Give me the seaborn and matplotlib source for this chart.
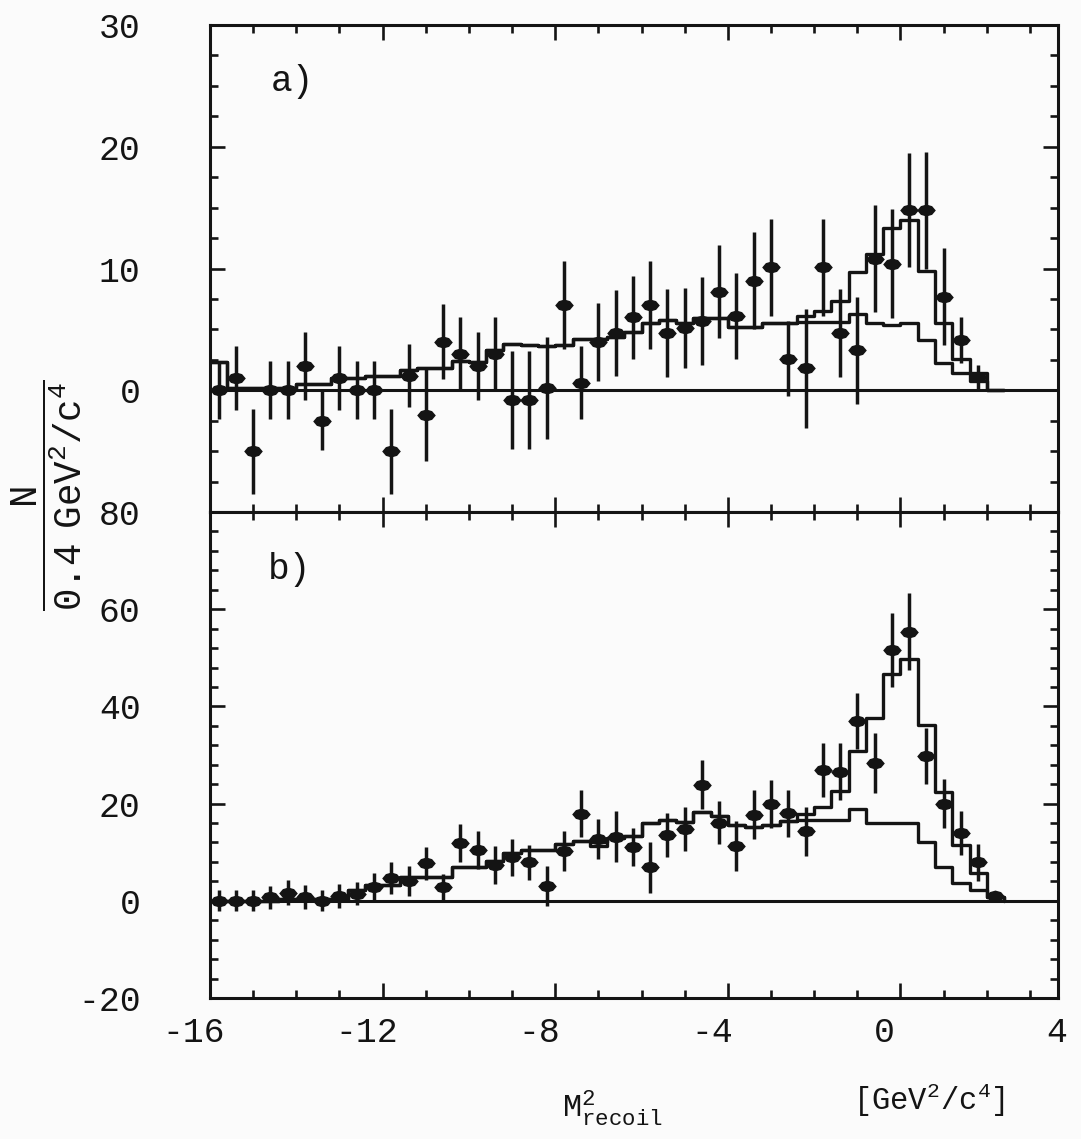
import numpy as np
import pandas as pd
import matplotlib
matplotlib.use("Agg")
import matplotlib.pyplot as plt
import matplotlib.transforms as mtransforms
from matplotlib.path import Path
from matplotlib.markers import MarkerStyle
from matplotlib.ticker import MultipleLocator, FixedLocator
import seaborn as sns

# ---------------- data ----------------
BIN_WIDTH = 0.4          # GeV^2/c^4 per bin
FIRST_EDGE = -16.0
N_BINS = 46
edges = FIRST_EDGE + BIN_WIDTH * np.arange(N_BINS + 1)
centers = edges[:-1] + BIN_WIDTH / 2

# panel a) data points and errors
a_counts = [0, 1, -5, 0, 0, 2, -2.5, 1, 0, 0, -5, 1.2, -2, 4, 3, 2, 3, -0.8, -0.8, 0.2,
            7, 0.6, 4, 4.7, 6, 7, 4.7, 5.1, 5.7, 8.1, 6.1, 9, 10.1, 2.6, 1.8, 10.1, 4.7, 3.3,
            10.8, 10.4, 14.8, 14.8, 7.7, 4.1, 1.1, np.nan]
a_errors = [2.4, 2.6, 3.5, 2.4, 2.4, 2.8, 2.4, 2.6, 2.4, 2.4, 3.5, 2.6, 3.8, 3.1, 3.0, 2.8,
            3.0, 4.0, 4.0, 4.2, 3.6, 3.0, 3.2, 3.5, 3.4, 3.6, 3.6, 3.3, 3.6, 3.8, 3.5, 4.0,
            4.0, 3.1, 4.9, 4.0, 3.6, 4.4, 4.4, 4.5, 4.7, 4.8, 4.0, 1.9, 1.0, np.nan]
# panel a) fitted total and background histograms
a_total = [2.3, 0.2, 0.2, 0.2, 0.2, 0.5, 0.5, 1.0, 1.0, 1.2, 1.2, 1.7, 1.8, 1.8, 2.4, 2.3,
           3.3, 3.8, 3.7, 3.6, 3.7, 4.2, 4.2, 4.4, 4.8, 5.5, 5.8, 5.5, 5.9, 5.9, 5.2, 5.2,
           5.5, 5.5, 6.1, 6.5, 7.3, 9.7, 11.2, 13.3, 14.0, 9.8, 5.5, 2.6, 1.4, 0.0]
a_backgr = [2.3, 0.2, 0.2, 0.2, 0.2, 0.5, 0.5, 1.0, 1.0, 1.2, 1.2, 1.7, 1.8, 1.8, 2.4, 2.3,
            3.3, 3.8, 3.7, 3.6, 3.7, 4.2, 4.2, 4.4, 4.8, 5.5, 5.8, 5.5, 5.9, 5.9, 5.2, 5.2,
            5.5, 5.5, 5.6, 5.6, 5.6, 6.3, 5.5, 5.4, 5.5, 4.1, 2.2, 1.4, 0.8, 0.0]

# panel b) data points and errors
b_counts = [0, 0, 0, 0.7, 1.7, 0.8, 0, 1, 1.5, 2.9, 4.7, 4.1, 7.7, 2.9, 11.8, 10.5, 7.4, 9,
            7.9, 3.1, 10.3, 17.9, 12.7, 13.2, 11, 6.9, 13.6, 14.8, 23.9, 16.1, 11.3, 17.7,
            19.9, 18, 14.3, 26.9, 26.6, 37, 28.3, 51.6, 55.4, 29.8, 20, 14, 7.9, 1.0]
b_errors = [2.2, 2.2, 2.2, 2.4, 2.6, 2.5, 2.2, 2.5, 2.4, 2.9, 3.3, 3.1, 3.4, 2.7, 3.9, 3.9,
            3.9, 3.8, 3.6, 4.1, 4.1, 4.8, 4.1, 5.3, 3.9, 5.3, 4.5, 4.6, 5.0, 4.5, 5.1, 5.0,
            5.0, 4.8, 5.1, 5.5, 5.8, 5.8, 6.2, 7.7, 7.9, 5.8, 5.0, 4.5, 3.8, 0.0]
b_total = [0, 0, 0, 0, 0.4, 0.4, 0.4, 0.4, 2.3, 3.2, 3.2, 4.8, 4.8, 5.0, 7.0, 7.0, 8.1, 9.8,
           10.5, 10.5, 11.6, 12.3, 12.0, 13.0, 13.4, 16.0, 16.6, 16.3, 18.2, 17.5, 15.5, 15.1,
           15.6, 16.5, 17.8, 19.3, 22.5, 30.9, 37.7, 46.7, 49.8, 36.2, 22.4, 11.4, 5.7, 0.8]
b_backgr = [0, 0, 0, 0, 0.4, 0.4, 0.4, 0.4, 2.3, 3.2, 3.2, 4.8, 4.8, 5.0, 7.0, 7.0, 8.1, 9.8,
            10.5, 10.5, 11.6, 12.3, 11.3, 13.0, 13.4, 16.0, 16.6, 16.3, 18.2, 17.5, 15.5, 15.1,
            15.6, 16.5, 16.6, 16.6, 16.6, 18.8, 16.0, 16.0, 16.0, 12.0, 7.0, 3.6, 2.2, 0.8]

x_major = [-16, -12, -8, -4, 0]
a_yticks = [-10, 0, 10, 20, 30]
a_ylabels = ["", "0", "10", "20", "30"]
b_yticks = [-20, 0, 20, 40, 60, 80]
b_ylabels = ["-20", "0", "20", "40", "60", "80"]

# ---------------- style ----------------
INK = "#141414"
PAPER = "#fbfbfb"
W, H, DPI = 1081, 1139, 100

sns.set_theme(style="ticks")
plt.rcParams["font.family"] = ["Liberation Mono", "DejaVu Sans"]
plt.rcParams["mathtext.fontset"] = "custom"
plt.rcParams["mathtext.rm"] = "Liberation Mono"
plt.rcParams["mathtext.it"] = "Liberation Mono"
plt.rcParams["mathtext.bf"] = "Liberation Mono"
plt.rcParams["axes.unicode_minus"] = False
plt.rcParams["text.color"] = INK
plt.rcParams["xtick.color"] = INK
plt.rcParams["ytick.color"] = INK

# lens-shaped data marker
lens = Path([(-1.0, 0.0), (-0.6, 0.47), (0.0, 0.64), (0.6, 0.47), (1.0, 0.0),
             (0.6, -0.47), (0.0, -0.64), (-0.6, -0.47), (-1.0, 0.0)], closed=True)
LENS = MarkerStyle(lens)

fig = plt.figure(figsize=(W / DPI, H / DPI), dpi=DPI, facecolor=PAPER)
L, R = 210 / W, 1058 / W
ax1 = fig.add_axes([L, 1 - 512 / H, R - L, 487 / H])
ax2 = fig.add_axes([L, 1 - 998 / H, R - L, 486 / H])

SHIFT_PX = -16
label_shift = mtransforms.ScaledTranslation(SHIFT_PX / DPI, 0, fig.dpi_scale_trans)
TICK_FS = 25
X_PAD = 13


def draw_panel(ax, counts, errs, total, backgr):
    ax.set_facecolor(PAPER)
    ax.axhline(0, color=INK, lw=2.2, zorder=1)
    for vals in (backgr, total):
        df = pd.DataFrame({"x": edges, "y": np.r_[vals, 0.0]})
        sns.lineplot(data=df, x="x", y="y", drawstyle="steps-post", color=INK, lw=2.4,
                     estimator=None, sort=False, legend=False, ax=ax, zorder=2)
    ax.errorbar(centers, counts, yerr=errs, fmt="none", ecolor=INK, elinewidth=2.5,
                capsize=0, zorder=3)
    pts = pd.DataFrame({"x": centers, "y": counts}).dropna()
    sns.scatterplot(data=pts, x="x", y="y", marker=LENS, s=180, color=INK,
                    edgecolor=INK, linewidth=0, legend=False, ax=ax, zorder=4)
    ax.set_xlim(-16, 3.65)
    ax.xaxis.set_major_locator(FixedLocator(x_major))
    ax.xaxis.set_minor_locator(MultipleLocator(1))
    ax.tick_params(which="both", direction="in", top=True, right=True,
                   width=1.9, color=INK, labelsize=TICK_FS)
    ax.tick_params(which="major", length=11)
    ax.tick_params(which="minor", length=6)
    ax.tick_params(axis="y", pad=50)
    ax.tick_params(axis="x", pad=X_PAD)
    for s in ax.spines.values():
        s.set_linewidth(2.2)
        s.set_color(INK)
    ax.set_xlabel("")
    ax.set_ylabel("")


draw_panel(ax1, a_counts, a_errors, a_total, a_backgr)
draw_panel(ax2, b_counts, b_errors, b_total, b_backgr)

ax1.set_ylim(-10, 30)
ax1.set_yticks(a_yticks)
ax1.set_yticklabels(a_ylabels)
ax1.yaxis.set_minor_locator(MultipleLocator(2.5))
ax1.tick_params(labelbottom=False)

ax2.set_ylim(-20, 80)
ax2.set_yticks(b_yticks)
ax2.set_yticklabels(b_ylabels)
ax2.yaxis.set_minor_locator(MultipleLocator(4))
ax2.set_xticks(x_major)
ax2.set_xticklabels([str(v) for v in x_major])
for lab in ax2.get_xticklabels():
    lab.set_transform(lab.get_transform() + label_shift)
# the "4" label sits just beyond the right edge of the frame
ax2.text(4, 0, "4", transform=mtransforms.blended_transform_factory(ax2.transData, ax2.transAxes)
         + mtransforms.ScaledTranslation(SHIFT_PX / DPI, -X_PAD / 72, fig.dpi_scale_trans),
         ha="center", va="top", fontsize=TICK_FS, clip_on=False)

# panel tags
ax1.text(0.097, 0.885, "a)", transform=ax1.transAxes, ha="center", va="center", fontsize=26)
ax2.text(0.094, 0.881, "b)", transform=ax2.transAxes, ha="center", va="center", fontsize=26)

# axis titles
fig.text(47 / W, 1 - 495 / H, r"$\dfrac{\mathrm{N}}{\mathrm{0.4\ \ GeV^2/c^4}}$",
         rotation=90, ha="center", va="center", fontsize=27)
fig.text(612 / W, 1 - 1108 / H, r"$\mathrm{M}^{\mathrm{2}}_{\mathrm{recoil}}$",
         ha="center", va="center", fontsize=23)
fig.text(929 / W, 1 - 1100 / H, r"[GeV$^{\mathrm{2}}$/c$^{\mathrm{4}}$]",
         ha="center", va="center", fontsize=22)

fig.savefig("out.png", dpi=DPI, facecolor=PAPER)
